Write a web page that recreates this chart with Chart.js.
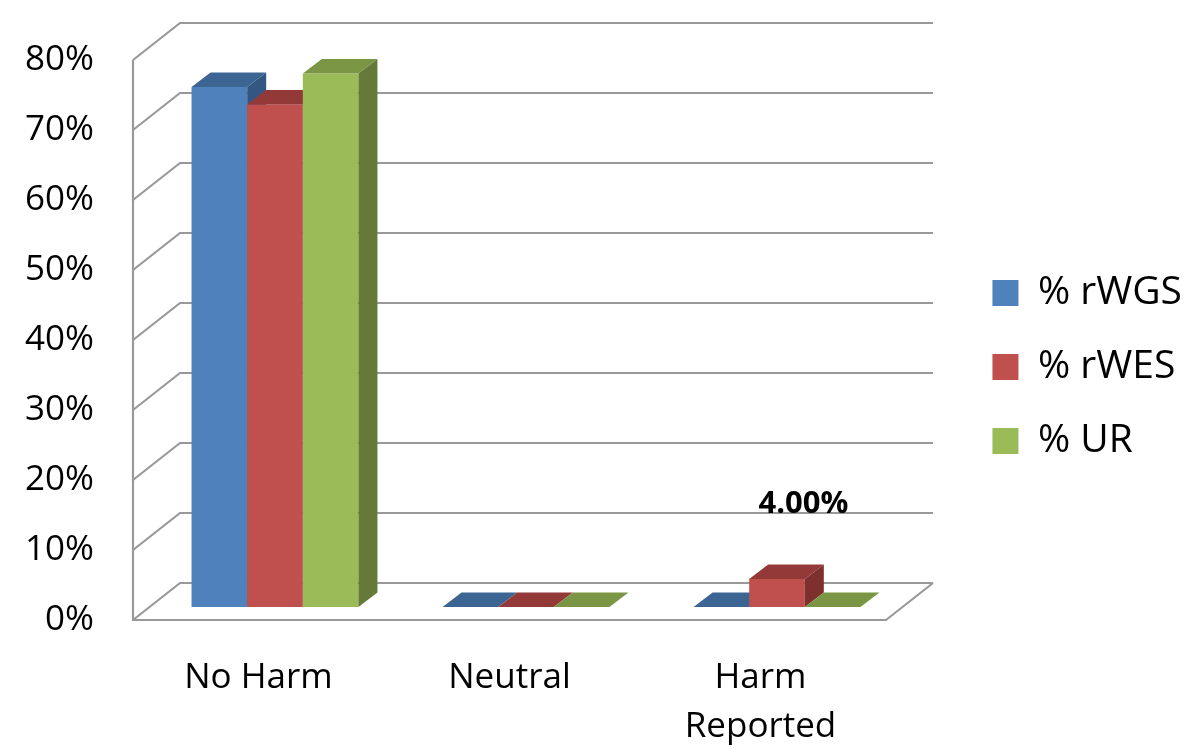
<!DOCTYPE html>
<html>
<head>
<meta charset="utf-8">
<script src="https://cdn.jsdelivr.net/npm/chart.js@4.4.1/dist/chart.umd.min.js"></script>
<style>
  html, body { margin: 0; padding: 0; background: #fff; }
  #wrap { width: 1188px; height: 748px; }
</style>
</head>
<body>
<div id="wrap"><canvas id="chart" width="1188" height="748"></canvas></div>
<script>
// Data
const categories = ['No Harm', 'Neutral', ['Harm', 'Reported']];
const seriesNames = ['% rWGS', '% rWES', '% UR'];
const rWGS = [74.3, 0, 0];
const rWES = [71.8, 0, 4.0];
const UR = [76.2, 0, 0];
const yTicks = [0, 10, 20, 30, 40, 50, 60, 70, 80];
// only this point carries a value label
const labelledPoints = [{ series: 1, index: 2 }];

// Face colours: front, top, side
const shades = [
  { front: '#4f81bd', top: '#3d6594', side: '#345781' },
  { front: '#c0504d', top: '#933a38', side: '#7d302e' },
  { front: '#9bbb59', top: '#7a9543', side: '#657a39' }
];

// oblique projection offsets
const FLOOR = { dx: 47, dy: -37 };        // full depth of floor and walls
const BAR_SHIFT = { dx: 16.5, dy: -13 };  // bars stand inside the floor
const BAR_DEPTH = { dx: 19, dy: -14.5 };  // depth of each column
const CHART_RIGHT = 886;
const PAD_RIGHT = -4;

Chart.defaults.font.family = "'Open Sans', sans-serif";
Chart.defaults.color = '#000';

function poly(ctx, pts, fill) {
  ctx.beginPath();
  ctx.moveTo(pts[0][0], pts[0][1]);
  for (let i = 1; i < pts.length; i++) ctx.lineTo(pts[i][0], pts[i][1]);
  ctx.closePath();
  ctx.fillStyle = fill;
  ctx.fill();
}

const box3d = {
  id: 'box3d',
  beforeDatasetsDraw(chart) {
    const { ctx, chartArea: a } = chart;
    const y = chart.scales.y;
    ctx.save();

    // back and side walls
    ctx.strokeStyle = '#999999';
    ctx.lineWidth = 2.2;
    y.ticks.forEach(t => {
      const py = y.getPixelForValue(t.value);
      ctx.beginPath();
      ctx.moveTo(a.left, py);
      ctx.lineTo(a.left + FLOOR.dx, py + FLOOR.dy);
      ctx.lineTo(a.right + FLOOR.dx, py + FLOOR.dy);
      ctx.stroke();
    });
    // wall front edge and floor outline
    const y0 = y.getPixelForValue(0);
    ctx.beginPath();
    ctx.moveTo(a.left, y.getPixelForValue(y.max));
    ctx.lineTo(a.left, y0);
    ctx.lineTo(a.right, y0);
    ctx.lineTo(a.right + FLOOR.dx, y0 + FLOOR.dy);
    ctx.stroke();

    // columns, left to right so nearer faces overlap
    const metas = chart.getSortedVisibleDatasetMetas();
    for (let i = 0; i < chart.data.labels.length; i++) {
      metas.forEach(meta => {
        const bar = meta.data[i];
        const { x, y: top, base, width } = bar.getProps(['x', 'y', 'base', 'width'], true);
        const s = shades[meta.index];
        const x0 = x - width / 2 + BAR_SHIFT.dx;
        const x1 = x + width / 2 + BAR_SHIFT.dx;
        const t = top + BAR_SHIFT.dy;
        const b = base + BAR_SHIFT.dy;
        const dx = BAR_DEPTH.dx, dy = BAR_DEPTH.dy;
        if (b - t > 0) {
          ctx.fillStyle = s.front;
          ctx.fillRect(x0, t, x1 - x0, b - t);
        }
        poly(ctx, [[x0, t], [x1, t], [x1 + dx, t + dy], [x0 + dx, t + dy]], s.top);
        if (b - t > 0) poly(ctx, [[x1, t], [x1 + dx, t + dy], [x1 + dx, b + dy], [x1, b]], s.side);
      });
    }
    ctx.restore();
    return false;
  },
  afterDraw(chart) {
    const { ctx } = chart;
    ctx.save();
    ctx.font = "bold 31px 'Open Sans', sans-serif";
    ctx.fillStyle = '#000';
    ctx.textAlign = 'center';
    ctx.textBaseline = 'middle';
    labelledPoints.forEach(p => {
      const bar = chart.getDatasetMeta(p.series).data[p.index];
      const v = chart.data.datasets[p.series].data[p.index];
      ctx.fillText(v.toFixed(2) + '%', bar.x + 43, bar.y - 88);
    });
    ctx.restore();
  }
};

// empty axes used only to reserve space around the plot
const spacer = (position, size) => ({
  type: 'linear',
  position,
  display: true,
  grid: { display: false },
  border: { display: false },
  ticks: { display: false },
  afterFit(s) {
    if (typeof size === 'function') s.width = size(s);
    else s.height = size;
  }
});

new Chart(document.getElementById('chart'), {
  type: 'bar',
  data: {
    labels: categories,
    datasets: [
      { label: seriesNames[0], data: rWGS, backgroundColor: shades[0].front, borderWidth: 0 },
      { label: seriesNames[1], data: rWES, backgroundColor: shades[1].front, borderWidth: 0 },
      { label: seriesNames[2], data: UR, backgroundColor: shades[2].front, borderWidth: 0 }
    ]
  },
  options: {
    responsive: false,
    animation: false,
    devicePixelRatio: 1,
    categoryPercentage: 0.665,
    barPercentage: 1,
    layout: { padding: { top: -14, bottom: 0, left: 0, right: PAD_RIGHT } },
    plugins: {
      legend: {
        position: 'right',
        maxWidth: 300,
        labels: {
          boxWidth: 26,
          boxHeight: 26,
          padding: 35,
          font: { size: 39 }
        }
      },
      tooltip: { enabled: false }
    },
    scales: {
      x: {
        grid: { display: false },
        border: { display: false },
        ticks: { font: { size: 35, lineHeight: 1.4 }, padding: 26, maxRotation: 0 },
        afterFit(s) { s.height = 128; }
      },
      y: {
        min: 0,
        max: 80,
        grid: { display: false, drawTicks: false },
        border: { display: false },
        ticks: { font: { size: 35 }, padding: 39, callback: v => v + '%' },
        afterBuildTicks(s) { s.ticks = yTicks.map(v => ({ value: v })); },
        afterFit(s) { s.width = 133; }
      },
      topGap: spacer('top', 61),
      rightGap: spacer('right', s => s.chart.width - PAD_RIGHT - s.chart.legend.width - CHART_RIGHT)
    }
  },
  plugins: [box3d]
});
</script>
</body>
</html>
